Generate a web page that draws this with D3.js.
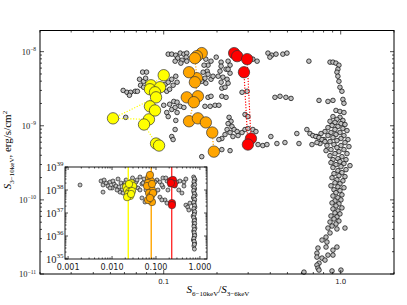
<!DOCTYPE html>
<html>
<head>
<meta charset="utf-8">
<script src="https://cdn.jsdelivr.net/npm/d3@7"></script>
<style>
  body { margin: 0; background: #fff; }
  text { font-family: "DejaVu Sans", sans-serif; }
  .math { font-family: "Liberation Serif", serif; }
</style>
</head>
<body>
<svg id="chart" width="407" height="305"></svg>
<script>
// main panel: [S(6-10)/S(3-6), flux in 1e-9 erg/s/cm2]
const sample = [
  [0.059,3.0],[0.062,2.83],[0.065,2.83],[0.069,2.92],[0.064,2.58],[0.071,2.92],
  [0.076,5.3],[0.080,5.3],[0.073,4.24],[0.077,3.98],[0.079,4.38],[0.074,3.52],[0.077,3.31],
  [0.061,1.30],
  [0.102,3.63],[0.106,3.87],[0.111,4.24],[0.117,4.66],[0.119,3.87],[0.113,3.52],[0.104,2.92],[0.108,3.11],
  [0.100,1.89],[0.108,1.95],[0.114,2.13],[0.119,2.08],[0.124,1.83],[0.111,1.66],[0.116,1.77],[0.104,1.51],
  [0.119,1.51],[0.106,1.33],[0.117,1.18],[0.116,0.89],[0.111,0.716],[0.113,0.652],
  [0.106,9.26],[0.111,9.26],[0.117,8.97],[0.124,9.56],[0.130,9.26],[0.135,9.56],[0.134,8.43],[0.120,8.17],
  [0.127,7.67],[0.135,7.44],[0.125,7.0],[0.116,7.44],
  [0.173,7.92],[0.185,7.44],[0.198,8.43],[0.178,6.57],[0.169,6.57],
  [0.211,7.22],[0.231,7.44],[0.237,6.57],[0.211,6.37],[0.225,5.8],
  [0.319,7.92],[0.337,7.44],[0.388,9.56],[0.408,8.97],[0.431,9.26],[0.471,9.26],[0.497,9.56],[0.398,8.43],
  [0.661,7.44],
  [0.176,5.45],[0.167,5.28],[0.178,4.96],[0.171,4.38],[0.164,3.98],[0.173,3.75],[0.185,4.24],[0.190,4.66],
  [0.208,5.45],[0.203,4.66],[0.216,4.52],[0.228,4.24],[0.211,3.87],[0.231,3.75],[0.213,3.21],[0.222,3.31],
  [0.237,5.12],[0.231,5.8],
  [0.160,2.42],[0.171,1.83],[0.183,1.83],[0.195,1.89],[0.205,1.89],[0.178,2.42],[0.185,2.50],[0.213,2.50],[0.225,2.42],
  [0.277,2.83],[0.296,2.92],
  [0.234,1.30],[0.240,1.15],[0.231,1.07],[0.243,0.98],[0.228,0.89],[0.250,0.89],[0.260,0.836],[0.237,0.811],
  [0.222,0.762],[0.213,0.673],[0.205,0.652],[0.246,0.716],[0.263,0.738],[0.277,0.811],[0.288,0.89],[0.299,0.918],
  [0.319,0.89],[0.332,0.836],
  [0.213,0.477],[0.237,0.462],[0.164,0.383],
  [0.288,1.42],[0.299,1.33],
  [0.341,0.558],[0.363,0.541],[0.383,0.558],[0.403,0.716],[0.436,0.576],[0.484,0.594],
  [0.425,2.42],[0.454,2.50],[0.490,2.42],[0.524,2.34],
  [0.130,1.77],
  [0.870,7.22],[0.904,7.22],[0.940,7.0],[0.977,6.57],[0.964,5.8],[0.952,5.28],[0.964,4.66],[0.977,3.98],
  [0.990,3.31],[1.016,2.92],
  [0.754,2.20],[0.847,2.13],[0.904,2.20],[1.029,2.27],[1.043,2.01],
  [0.940,1.61],[0.990,1.56],[1.043,1.51],
  [0.904,1.33],[0.990,1.30],[0.952,1.22],[1.029,1.18],[0.870,1.15],[0.928,1.11],[1.003,1.07],[1.057,1.04],
  [0.893,1.01],[0.964,0.977],[0.847,0.946],[1.029,0.918],[0.928,0.89],[1.085,0.862],[0.815,0.836],[0.881,0.811],
  [0.990,0.811],[0.774,0.786],[0.940,0.762],[1.043,0.738],[0.847,0.738],[0.734,0.716],[0.904,0.693],[1.003,0.673],
  [1.099,0.652],[0.804,0.652],[0.952,0.632],[0.870,0.612],[1.057,0.594],[0.764,0.576],[0.916,0.558],[1.003,0.541],
  [0.836,0.541],[1.113,0.524],[0.952,0.508],[0.881,0.477],[1.043,0.477],[0.826,0.462],[0.977,0.448],[0.928,0.421],
  [1.085,0.421],[0.870,0.395],[1.016,0.383],[0.964,0.360],[0.904,0.349],[1.071,0.349],[0.990,0.328],[0.881,0.318],
  [1.043,0.309],[0.940,0.299],[1.128,0.290],[1.003,0.281],[0.904,0.273],[1.071,0.256],[0.964,0.248],[1.016,0.233],
  [0.916,0.226],[0.977,0.212],[1.057,0.206],[0.893,0.199],[0.952,0.187],[1.029,0.181],[0.928,0.170],[0.990,0.165],
  [0.881,0.155],[0.964,0.150],[1.043,0.146],[0.916,0.137],[0.990,0.133],[0.940,0.125],[1.016,0.117],[0.904,0.113],
  [0.964,0.107],[1.003,0.100],[0.928,0.097],[0.893,0.091],[0.977,0.0885],[0.940,0.083],[1.016,0.078],[0.904,0.0756],
  [0.964,0.071],[0.928,0.0667],[0.990,0.0647],[0.881,0.0607],[0.952,0.0589],[0.916,0.0553],[0.977,0.0519],[0.870,0.0503],
  [0.940,0.0473],[0.893,0.0444],[0.847,0.0417],[0.952,0.0405],[1.057,0.0417],
  [0.565,0.786],[0.581,0.576],[0.644,0.89],[0.670,0.786],[0.696,0.738],[0.724,0.716],[0.754,0.693],[0.784,0.652],
  [0.815,0.612],[0.734,0.594],[0.688,0.558],
  [0.870,0.0358],[0.826,0.0315],[0.784,0.0287],[0.836,0.027],[0.744,0.0224],[0.826,0.0231],[0.904,0.0210],[0.952,0.0231],
  [0.734,0.0191],[0.847,0.018],[0.904,0.018],[0.784,0.0164],[0.815,0.0154],[0.734,0.0169],[0.754,0.014],[0.734,0.0132],
  [0.744,0.012],[0.754,0.0113],[0.620,0.0106],[0.893,0.011],[1.003,0.0113]
];

// three tracked sources, points in time order
const yellowSrc = [
  [0.100,4.81],[0.0847,3.52],[0.0953,3.31],[0.0836,3.11],[0.0893,2.83],[0.0905,2.42],[0.0517,1.26],
  [0.0825,1.22],[0.0836,1.83],[0.0893,1.61],[0.0774,1.04],[0.0905,0.576],[0.0941,0.541]
];
const orangeSrc = [
  [0.164,9.56],[0.154,8.70],[0.150,8.17],[0.154,4.38],[0.139,5.28],[0.150,3.87],[0.156,2.50],
  [0.135,2.42],[0.148,2.08],[0.139,1.15],[0.156,1.26],[0.173,1.11],[0.188,0.811],[0.192,0.448]
];
const redSrc = [
  [0.250,9.56],[0.260,8.70],[0.296,7.92],[0.311,0.673],[0.299,0.558],[0.284,5.28]
];

// inset: [ratio, luminosity erg/s]
const insetSample = [
  [0.00187,1.65e38],[0.00562,2.46e38],[0.00624,1.65e38],[0.00624,8.1e37],[0.0073,2.02e38],[0.0081,1.49e38],
  [0.0090,2.23e38],[0.0100,1.22e38],[0.0111,1.82e38],[0.0123,1.49e38],[0.0137,3.0e38],[0.0144,1.35e38],
  [0.0160,2.02e38],[0.0169,1.0e38],[0.0188,1.65e38],[0.0209,2.72e38],[0.0152,8.1e37],[0.0178,7.4e37],
  [0.0293,3.33e38],[0.0352,2.23e38],[0.039,1.22e38],[0.0433,3.67e38],[0.048,1.82e38],[0.0534,3.0e38],
  [0.0593,1.0e38],[0.048,4.5e37],[0.0563,3.0e37],[0.105,2.72e38],[0.123,2.23e38],[0.144,3.33e38],
  [0.178,2.46e38],[0.144,1.35e38],[0.111,1.0e38],[0.095,7.4e37],[0.123,4.9e37],[0.160,3.7e37],
  [0.136,3.7e37],[0.178,2.7e37],[0.30,2.23e38],[0.351,2.46e38],[0.433,2.23e38],[0.390,7.4e37],
  [0.48,2.2e37],[0.53,1.8e37],[0.593,2.7e37],[0.56,1.35e37],[0.270,1.49e38],[0.187,1.0e38],
  [0.0066,2.72e38],[0.009,1.22e38],[0.0105,2.46e38],[0.013,1.0e38],[0.0198,2.02e38],[0.0334,1.49e38],
  [0.037,2.72e38],[0.0433,1.0e38],[0.0507,2.02e38],[0.095,2.23e38],[0.136,1.65e38],[0.168,3.33e38],
  [0.208,1.65e38],[0.33,1.0e38],[0.433,1.49e38],[0.48,3.0e38],
  [0.72,3.67e38],[0.77,2.72e38],[0.74,2.02e38],[0.70,1.49e38],[0.76,1.1e38],[0.73,8.1e37],[0.78,6.0e37],
  [0.71,4.5e37],[0.75,3.3e37],[0.74,2.5e37],[0.77,1.8e37],[0.72,1.35e37],[0.75,1.0e37],[0.70,7.4e36],
  [0.76,5.5e36],[0.73,4.1e36],[0.74,3.0e36],[0.77,2.2e36],[0.72,1.65e36],[0.75,1.2e36],[0.74,9.0e35],
  [0.71,6.7e35],[0.76,4.9e35],[0.73,3.7e35],[0.75,2.7e35],
  [0.75,3.1e38],[0.73,2.3e38],[0.76,1.7e38],[0.74,1.25e38],[0.72,9.5e37],[0.75,7.0e37],[0.73,5.2e37],
  [0.76,3.9e37],[0.72,2.9e37],[0.75,2.1e37],[0.73,1.55e37],[0.76,1.15e37],[0.74,8.5e36],[0.72,6.3e36],
  [0.75,4.7e36],[0.76,3.5e36],[0.73,2.6e36],[0.75,1.9e36],[0.74,1.4e36],[0.76,1.05e36],[0.73,7.8e35],
  [0.74,5.8e35],[0.75,4.3e35]
];
const insetYellow = [
  [0.0271,2.02e38],[0.0232,1.65e38],[0.0209,1.35e38],[0.0257,1.22e38],[0.022,1.0e38],[0.0244,8.1e37],
  [0.0232,6.7e37],[0.0257,5.5e37],[0.022,4.9e37],[0.0301,1.49e38],[0.0285,9.0e37],[0.0244,1.82e38],[0.0271,6.7e37]
];
const insetOrange = [
  [0.0694,3.33e38],[0.077,2.46e38],[0.0659,2.02e38],[0.0731,1.35e38],[0.0811,1.0e38],[0.0694,7.4e37],
  [0.077,5.5e37],[0.0811,3.0e37],[0.0659,3.7e37],[0.0855,7.4e37],[0.0731,4.49e38],[0.0625,1.49e38],
  [0.0811,1.82e38],[0.0731,4.5e37]
];
const insetRed = [
  [0.219,2.46e38],[0.243,2.72e38],[0.256,1.82e38],[0.231,2.7e37],[0.231,2.2e37],[0.219,2.02e38]
];
const insetLines = [0.0234, 0.078, 0.228];

const xTicks = [0.1, 1];
const xTickLabels = ["0.1", "1.0"];
const yTicks = [1e-11, 1e-10, 1e-9, 1e-8];
const yTickExp = ["\u221211", "\u221210", "\u22129", "\u22128"];
const insetXTicks = [0.001, 0.01, 0.1, 1];
const insetXLabels = ["0.001", "0.010", "0.100", "1.000"];
const insetYTicks = [1e35, 1e36, 1e37, 1e38, 1e39];
const insetYExp = ["35", "36", "37", "38", "39"];

const colors = { gray: "#c0c0c0", yellow: "#ffff00", orange: "#ffa500", red: "#ff0000" };

const svg = d3.select("#chart");

const x = d3.scaleLog().domain([0.02, 2]).range([40, 394]);
const y = d3.scaleLog().domain([1e-11, 1.93e-8]).range([274, 30.5]);

// draws inward ticks on all four sides of a box
function frameTicks(g, sx, sy, majX, majY, big, small) {
  const [x0, x1] = sx.range(), [y0, y1] = sy.range();
  const minX = sx.ticks().filter(v => !majX.some(m => Math.abs(m - v) / m < 1e-6));
  const minY = sy.ticks().filter(v => !majY.some(m => Math.abs(m - v) / m < 1e-6));
  const seg = (list, len, vertical) => {
    list.forEach(v => {
      if (vertical) {
        const px = sx(v);
        g.append("line").attr("x1", px).attr("x2", px).attr("y1", y0).attr("y2", y0 - len);
        g.append("line").attr("x1", px).attr("x2", px).attr("y1", y1).attr("y2", y1 + len);
      } else {
        const py = sy(v);
        g.append("line").attr("x1", x0).attr("x2", x0 + len).attr("y1", py).attr("y2", py);
        g.append("line").attr("x1", x1).attr("x2", x1 - len).attr("y1", py).attr("y2", py);
      }
    });
  };
  seg(majX, big, true); seg(minX, small, true);
  seg(majY, big, false); seg(minY, small, false);
  g.selectAll("line").attr("stroke", "#000").attr("stroke-width", 0.7);
}

// gray sample
svg.append("g").selectAll("circle").data(sample).enter().append("circle")
  .attr("cx", d => x(d[0])).attr("cy", d => y(d[1] * 1e-9)).attr("r", 2.3)
  .attr("fill", colors.gray).attr("stroke", "#000").attr("stroke-width", 0.7);

const line = d3.line().x(d => x(d[0])).y(d => y(d[1] * 1e-9));
const tracks = [[yellowSrc, colors.yellow], [orangeSrc, colors.orange], [redSrc, colors.red]];
tracks.forEach(([data, c]) => {
  svg.append("path").datum(data).attr("d", line).attr("fill", "none")
    .attr("stroke", c).attr("stroke-width", 1.2).attr("stroke-dasharray", "1.2,1.6");
});
tracks.forEach(([data, c]) => {
  svg.append("g").selectAll("circle").data(data).enter().append("circle")
    .attr("cx", d => x(d[0])).attr("cy", d => y(d[1] * 1e-9)).attr("r", 5.7)
    .attr("fill", c).attr("stroke", "#333").attr("stroke-width", 0.7);
});

// frame and ticks
svg.append("rect").attr("x", 40).attr("y", 30.5).attr("width", 354).attr("height", 243.5)
  .attr("fill", "none").attr("stroke", "#000").attr("stroke-width", 1);
frameTicks(svg.append("g"), x, y, xTicks, yTicks, 4, 2);

svg.append("g").selectAll("text").data(xTicks).enter().append("text")
  .attr("x", d => x(d)).attr("y", 284).attr("text-anchor", "middle")
  .attr("font-size", 7).attr("fill", "#222").text((d, i) => xTickLabels[i]);

yTicks.forEach((v, i) => {
  const t = svg.append("text").attr("class", "math").attr("x", 36).attr("y", y(v) + 3)
    .attr("text-anchor", "end").attr("fill", "#222").attr("font-size", 8.5);
  t.append("tspan").text("10");
  t.append("tspan").attr("font-size", 5.5).attr("dy", -3.5).text(yTickExp[i]);
});

// axis titles
const xt = svg.append("text").attr("class", "math").attr("x", 218).attr("y", 293)
  .attr("text-anchor", "middle").attr("font-size", 11);
xt.append("tspan").attr("font-style", "italic").text("S");
xt.append("tspan").attr("font-size", 7).attr("dy", 2.5).text("6\u221210keV");
xt.append("tspan").attr("dy", -2.5).text("/");
xt.append("tspan").attr("font-style", "italic").text("S");
xt.append("tspan").attr("font-size", 7).attr("dy", 2.5).text("3\u22126keV");

const yt = svg.append("text").attr("class", "math").attr("transform", "translate(11,150) rotate(-90)")
  .attr("text-anchor", "middle").attr("font-size", 11);
yt.append("tspan").attr("font-style", "italic").text("S");
yt.append("tspan").attr("font-size", 7).attr("dy", 2.5).text("3\u221210keV");
yt.append("tspan").attr("dy", -2.5).text(", erg/s/cm");
yt.append("tspan").attr("font-size", 7).attr("dy", -4).text("2");

// inset
const ix = d3.scaleLog().domain([8.5e-4, 1.45]).range([65, 207]);
const iy = d3.scaleLog().domain([1e35, 1e39]).range([259, 167]);
const inset = svg.append("g");
inset.append("rect").attr("x", 65).attr("y", 167).attr("width", 142).attr("height", 92).attr("fill", "#fff");
inset.append("g").selectAll("circle").data(insetSample).enter().append("circle")
  .attr("cx", d => ix(d[0])).attr("cy", d => iy(d[1])).attr("r", 2)
  .attr("fill", colors.gray).attr("stroke", "#000").attr("stroke-width", 0.6);
const lineColors = [colors.yellow, colors.orange, "#ff3030"];
inset.append("g").selectAll("line").data(insetLines).enter().append("line")
  .attr("x1", d => ix(d)).attr("x2", d => ix(d)).attr("y1", 167).attr("y2", 259)
  .attr("stroke", (d, i) => lineColors[i]).attr("stroke-width", 1.4);
[[insetYellow, colors.yellow], [insetOrange, colors.orange], [insetRed, colors.red]].forEach(([data, c]) => {
  inset.append("g").selectAll("circle").data(data).enter().append("circle")
    .attr("cx", d => ix(d[0])).attr("cy", d => iy(d[1])).attr("r", 3.7)
    .attr("fill", c).attr("stroke", "#333").attr("stroke-width", 0.6);
});
inset.append("rect").attr("x", 65).attr("y", 167).attr("width", 142).attr("height", 92)
  .attr("fill", "none").attr("stroke", "#000").attr("stroke-width", 0.9);
frameTicks(inset.append("g"), ix, iy, insetXTicks, insetYTicks, 3, 1.5);

inset.append("g").selectAll("text").data(insetXTicks).enter().append("text")
  .attr("x", d => ix(d)).attr("y", 269.5).attr("text-anchor", "middle")
  .attr("font-size", 8).attr("fill", "#222").text((d, i) => insetXLabels[i]);
insetYTicks.forEach((v, i) => {
  const t = inset.append("text").attr("class", "math").attr("x", 63.5).attr("y", iy(v) + 3.5)
    .attr("text-anchor", "end").attr("fill", "#222").attr("font-size", 10.5);
  t.append("tspan").text("10");
  t.append("tspan").attr("font-size", 7).attr("dy", -4.5).text(insetYExp[i]);
});
</script>
</body>
</html>
